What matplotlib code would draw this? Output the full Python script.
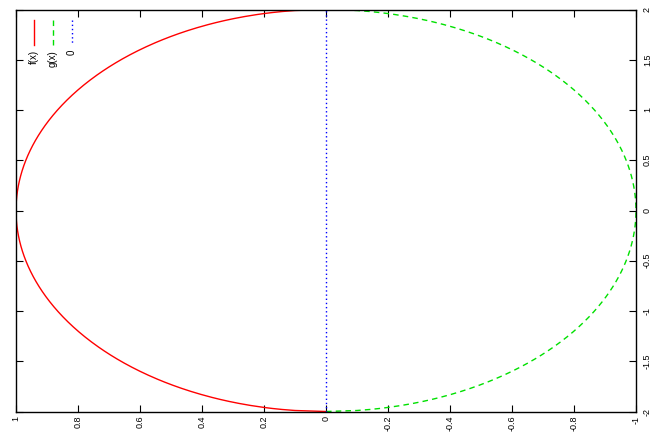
import numpy as np
import matplotlib
matplotlib.use("Agg")
import matplotlib.pyplot as plt

# gnuplot landscape output: the whole plot is turned 90 degrees
x = np.linspace(-2, 2, 400)
f_vals = np.sqrt(np.clip(1 - x**2 / 4, 0, None))
g_vals = -f_vals
zero_vals = np.zeros_like(x)

x_ticks = [-2, -1.5, -1, -0.5, 0, 0.5, 1, 1.5, 2]
x_labels = ["-2", "-1.5", "-1", "-0.5", "0", "0.5", "1", "1.5", "2"]
y_ticks = [1, 0.8, 0.6, 0.4, 0.2, 0, -0.2, -0.4, -0.6, -0.8, -1]
y_labels = ["1", "0.8", "0.6", "0.4", "0.2", "0", "-0.2", "-0.4", "-0.6", "-0.8", "-1"]
names = ["f(x)", "g(x)", "0"]
colors = ["#ff0000", "#00e000", "#0000ff"]
styles = ["-", (0, (4, 3)), (0, (1, 2))]

plt.rcParams['font.family'] = ['Liberation Sans Narrow', 'Liberation Sans', 'DejaVu Sans']
fig = plt.figure(figsize=(6.55, 4.32), dpi=100)
ax = fig.add_axes([16 / 655, 1 - 411.5 / 432, 620 / 655, 402 / 432])

# horizontal axis carries the function value, vertical axis carries x
for vals, c, ls in zip([f_vals, g_vals, zero_vals], colors, styles):
    ax.plot(vals, x, color=c, linestyle=ls, linewidth=1)

ax.set_xlim(1, -1)
ax.set_ylim(-2, 2)
ax.set_xticks(y_ticks)
ax.set_xticklabels(y_labels, rotation=90, fontsize=6.5)
ax.set_yticks(x_ticks)
ax.set_yticklabels(x_labels, rotation=90, fontsize=6.5, va="center")
ax.yaxis.tick_right()
ax.tick_params(axis="both", direction="in", length=5, width=0.8,
               top=True, bottom=True, left=True, right=True)
ax.tick_params(axis="x", pad=3)
ax.tick_params(axis="y", pad=5)
for s in ax.spines.values():
    s.set_linewidth(1)

# legend, turned like the rest of the plot
leg_x = [34, 53, 72]
for px, name, c, ls in zip(leg_x, names, colors, styles):
    fx = px / 655
    fig.add_artist(plt.Line2D([fx, fx], [1 - 20 / 432, 1 - 45 / 432],
                              color=c, linestyle=ls, linewidth=1,
                              transform=fig.transFigure))
    fig.text(fx, 1 - 50 / 432, name, rotation=90, ha="center", va="top",
             fontsize=7)

fig.savefig("out.png", dpi=100)
